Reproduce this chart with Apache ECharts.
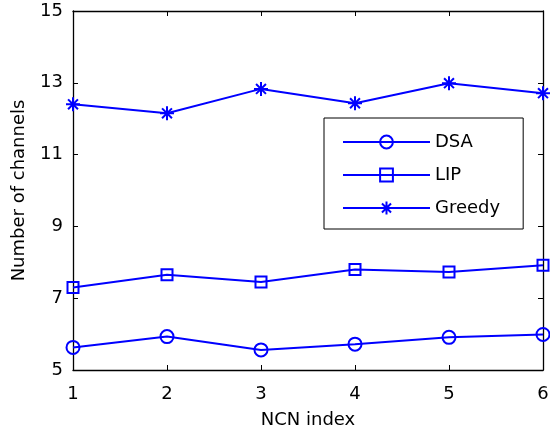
<!DOCTYPE html>
<html>
<head>
<meta charset="utf-8">
<script src="https://cdn.jsdelivr.net/npm/echarts@6/dist/echarts.min.js"></script>
<style>html,body{margin:0;padding:0;background:#fff;}#c{width:550px;height:430px;}</style>
</head>
<body>
<div id="c"></div>
<script>
var ncnIndex = [1, 2, 3, 4, 5, 6];
var dsa = [5.63, 5.93, 5.56, 5.72, 5.91, 5.99];
var lip = [7.30, 7.65, 7.45, 7.80, 7.73, 7.92];
var greedy = [12.40, 12.15, 12.83, 12.43, 12.99, 12.71];
var yTicks = [5, 7, 9, 11, 13, 15];

function pairs(xs, ys) { return xs.map(function (x, i) { return [x, ys[i]]; }); }

var BLUE = '#0000ff';
var FONT = 'DejaVu Sans, Liberation Sans, Arial, sans-serif';
var FS = 18;
var asterisk = 'path://M0,-10L0,10M-10,0L10,0M-7.07,-7.07L7.07,7.07M-7.07,7.07L7.07,-7.07';

function mkSeries(name, data, symbol, size) {
  return {
    name: name, type: 'line', data: pairs(ncnIndex, data),
    symbol: symbol, symbolSize: size, showAllSymbol: true,
    lineStyle: { color: BLUE, width: 2 },
    itemStyle: { color: 'rgba(0,0,0,0)', borderColor: BLUE, borderWidth: 2 },
    emphasis: { disabled: true }, animation: false, z: 3
  };
}

var chart = echarts.init(document.getElementById('c'), null, { renderer: 'canvas' });
var axisLine = { show: true, lineStyle: { color: '#000', width: 1.3 } };
var tick = { show: true, inside: true, length: 5, lineStyle: { color: '#000', width: 1 } };
chart.setOption({
  animation: false,
  backgroundColor: '#fff',
  grid: { left: 73, right: 7, top: 11, bottom: 60, containLabel: false, outerBoundsMode: 'none' },
  xAxis: [{
    type: 'value', min: 1, max: 6, interval: 1,
    name: 'NCN index', nameLocation: 'middle', nameGap: 41,
    nameTextStyle: { fontFamily: FONT, fontSize: FS, color: '#000' },
    axisLine: axisLine, axisTick: tick, splitLine: { show: false },
    axisLabel: { fontFamily: FONT, fontSize: FS, color: '#000', margin: 15 }
  }, {
    type: 'value', min: 1, max: 6, interval: 1, position: 'top',
    axisLine: axisLine, axisTick: tick, splitLine: { show: false },
    axisLabel: { show: false }
  }],
  yAxis: [{
    type: 'value', min: 5, max: 15, interval: 2,
    name: 'Number of channels', nameLocation: 'middle', nameGap: 45, nameRotate: 90,
    nameTextStyle: { fontFamily: FONT, fontSize: FS, color: '#000' },
    axisLine: axisLine, axisTick: tick, splitLine: { show: false },
    axisLabel: { fontFamily: FONT, fontSize: FS, color: '#000', margin: 10,
      formatter: function (v) { return yTicks.indexOf(v) >= 0 ? String(v) : ''; } }
  }, {
    type: 'value', min: 5, max: 15, interval: 2, position: 'right',
    axisLine: axisLine, axisTick: tick, splitLine: { show: false },
    axisLabel: { show: false }
  }],
  legend: {
    orient: 'vertical', left: 324, top: 118,
    padding: [15, 23, 12, 18],
    itemWidth: 87, itemHeight: 16, itemGap: 15,
    backgroundColor: '#fff', borderColor: '#000', borderWidth: 1,
    textStyle: { fontFamily: FONT, fontSize: FS, color: '#000', lineHeight: 18 },
    selectedMode: false,
    data: ['DSA', 'LIP', 'Greedy']
  },
  series: [
    mkSeries('DSA', dsa, 'circle', 13),
    mkSeries('LIP', lip, 'rect', 11),
    mkSeries('Greedy', greedy, asterisk, 14)
  ]
});
</script>
</body>
</html>
